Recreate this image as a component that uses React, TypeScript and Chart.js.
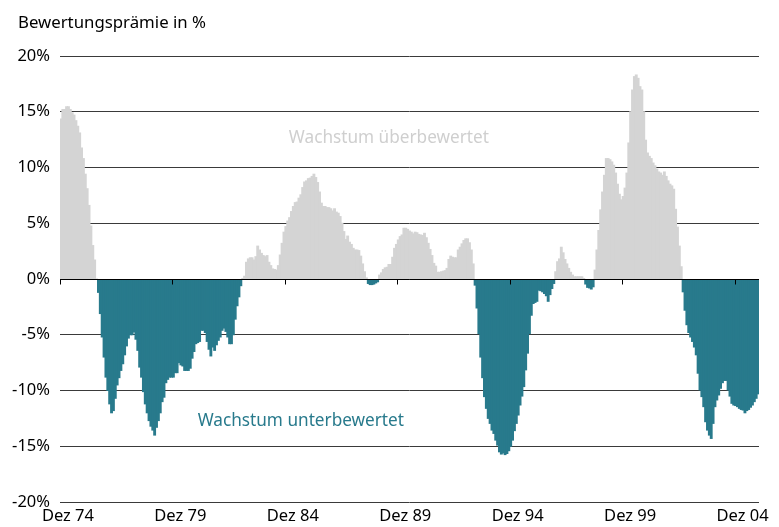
import React, { useEffect, useRef } from 'react';
import { Chart, registerables } from 'chart.js';

Chart.register(...registerables);

// Bewertungsprämie (Wachstum vs. Substanz) in %, monatlich ab Dez 74
const values1975to1979 = [
  14.35, 15.2, 15.2, 15.45, 15.45, 15.2, 14.9, 14.7, 14.2, 13.7,
  13.1, 11.75, 10.8, 9.4, 8.1, 6.6, 4.75, 3.0, 1.7, 0.0,
  -1.2, -3.1, -5.2, -7.0, -8.8, -10.0, -11.2, -12.0, -11.8, -10.7,
  -9.5, -8.85, -8.2, -7.6, -6.8, -6.0, -5.3, -5.0, -5.0, -4.75,
  -5.4, -6.4, -7.9, -8.8, -10.1, -11.2, -12.0, -12.7, -13.2, -13.55,
  -14.0, -13.3, -12.7, -12.0, -11.0, -10.6, -9.3, -9.0, -8.8, -8.8,
];
const values1980to1984 = [
  -8.8, -8.4, -8.4, -7.5, -7.7, -7.8, -8.2, -8.2, -8.2, -8.0,
  -7.1, -6.5, -5.8, -5.7, -5.6, -4.6, -4.6, -4.8, -5.6, -6.3,
  -6.9, -6.1, -6.4, -5.9, -5.5, -5.2, -4.6, -4.4, -4.7, -5.2,
  -5.8, -5.8, -5.0, -3.6, -2.4, -1.6, -0.6, 0.05, 0.25, 1.5,
  1.8, 1.9, 1.9, 1.7, 2.0, 2.95, 2.6, 2.3, 2.1, 2.0,
  2.1, 1.5, 1.2, 0.9, 0.85, 0.8, 1.2, 2.15, 3.2, 4.2,
];
const values1985to1989 = [
  4.7, 5.2, 5.5, 6.05, 6.5, 6.85, 6.9, 7.25, 7.55, 8.2,
  8.7, 8.8, 9.0, 9.05, 9.2, 9.4, 9.1, 8.65, 7.8, 6.8,
  6.5, 6.5, 6.4, 6.4, 6.3, 6.1, 6.3, 6.0, 5.9, 5.6,
  5.0, 4.25, 3.55, 3.85, 3.3, 3.1, 2.75, 2.6, 2.6, 2.55,
  2.05, 1.35, 0.65, 0.1, -0.4, -0.5, -0.5, -0.45, -0.35, -0.25,
  0.35, 0.55, 0.85, 1.0, 1.05, 1.3, 1.3, 1.95, 2.75, 3.1,
];
const values1990to1994 = [
  3.5, 3.8, 3.95, 4.55, 4.55, 4.45, 4.3, 4.2, 4.05, 4.2,
  4.15, 4.0, 3.95, 3.9, 4.1, 3.7, 3.2, 2.65, 2.1, 1.4,
  1.15, 0.6, 0.6, 0.65, 0.7, 0.75, 0.95, 1.75, 2.05, 1.95,
  1.9, 1.9, 2.6, 2.85, 3.15, 3.45, 3.6, 3.6, 3.25, 2.6,
  1.35, -0.55, -2.6, -4.9, -7.0, -8.85, -10.55, -11.6, -12.5, -12.95,
  -13.55, -13.85, -14.45, -14.9, -15.5, -15.7, -15.6, -15.75, -15.65, -15.4,
];
const values1995to1999 = [
  -15.0, -14.45, -13.6, -12.95, -12.2, -11.3, -10.5, -9.65, -8.15, -6.65,
  -4.9, -3.25, -2.2, -2.1, -2.0, -1.0, -1.05, -1.15, -1.3, -1.5,
  -2.0, -1.4, -0.85, -0.4, 0.65, 1.55, 1.8, 2.85, 2.35, 1.75,
  1.35, 0.95, 0.6, 0.35, 0.2, 0.2, 0.2, 0.2, 0.2, 0.05,
  -0.45, -0.75, -0.8, -0.9, -0.7, 0.8, 2.6, 4.35, 6.2, 7.8,
  9.3, 10.8, 10.8, 10.7, 10.5, 10.2, 9.5, 8.5, 7.6, 7.1,
];
const values2000to2004 = [
  7.4, 8.15, 9.5, 12.2, 15.0, 16.95, 18.15, 18.3, 18.0, 17.25,
  16.95, 15.0, 12.45, 11.3, 11.0, 10.8, 10.4, 10.15, 9.85, 9.6,
  9.5, 9.3, 9.6, 9.2, 8.8, 8.5, 8.35, 8.05, 6.25, 4.65,
  2.95, 1.1, -1.15, -2.8, -4.1, -4.8, -5.2, -5.6, -6.1, -6.8,
  -8.45, -9.95, -10.55, -11.45, -12.8, -13.55, -14.0, -14.3, -12.95, -11.45,
  -10.85, -10.4, -9.8, -9.3, -9.1, -9.1, -9.95, -10.5, -11.15, -11.3,
];
const values2005 = [
  -11.35, -11.45, -11.6, -11.7, -11.75, -12.0, -11.8, -11.7, -11.5, -11.3,
  -11.0, -10.7, -10.3,
];

const premium = [
  ...values1975to1979,
  ...values1980to1984,
  ...values1985to1989,
  ...values1990to1994,
  ...values1995to1999,
  ...values2000to2004,
  ...values2005,
];

const monthNames = ['Jan', 'Feb', 'Mrz', 'Apr', 'Mai', 'Jun', 'Jul', 'Aug', 'Sep', 'Okt', 'Nov', 'Dez'];
const categories: string[] = premium.map((_, i) => {
  const m = (11 + i) % 12;
  const y = 1974 + Math.floor((11 + i) / 12);
  return `${monthNames[m]} ${String(y % 100).padStart(2, '0')}`;
});

const tickLabels = ['Dez 74', 'Dez 79', 'Dez 84', 'Dez 89', 'Dez 94', 'Dez 99', 'Dez 04'];
const yTicks = [-20, -15, -10, -5, 0, 5, 10, 15, 20];

const TITLE = 'Bewertungsprämie in %';
const LABEL_OVER = 'Wachstum überbewertet';
const LABEL_UNDER = 'Wachstum unterbewertet';

const GRAY = '#d4d4d4';
const TEAL = '#287a8c';
const FONT = '"Noto Sans", "Open Sans", sans-serif';
const FONT_SIZE = 16.5;

export default function App() {
  const canvasRef = useRef<HTMLCanvasElement | null>(null);

  useEffect(() => {
    const canvas = canvasRef.current;
    if (!canvas) return;

    const overlay = {
      id: 'overlay',
      afterDatasetsDraw(chart: any) {
        const { ctx, chartArea } = chart;
        const x = chart.scales.x;
        const y = chart.scales.y;
        ctx.save();
        // zero line with year ticks
        const y0 = Math.round(y.getPixelForValue(0)) + 0.5;
        ctx.strokeStyle = '#000';
        ctx.lineWidth = 1;
        ctx.beginPath();
        ctx.moveTo(chartArea.left, y0);
        ctx.lineTo(chartArea.right, y0);
        categories.forEach((c, i) => {
          if (tickLabels.includes(c)) {
            const px = Math.round(x.getPixelForValue(i) - x.width / categories.length / 2) + 0.5;
            ctx.moveTo(px, y0);
            ctx.lineTo(px, y0 + 5);
          }
        });
        ctx.stroke();

        // annotations
        ctx.font = `17.2px ${FONT}`;
        ctx.textAlign = 'center';
        ctx.textBaseline = 'middle';
        ctx.fillStyle = '#cfcfcf';
        ctx.fillText(LABEL_OVER, x.getPixelForValue(175), y.getPixelForValue(12.6));
        ctx.fillStyle = TEAL;
        ctx.fillText(LABEL_UNDER, x.getPixelForValue(128), y.getPixelForValue(-12.75));

        // title
        ctx.font = `16.8px ${FONT}`;
        ctx.fillStyle = '#000';
        ctx.textAlign = 'left';
        ctx.textBaseline = 'alphabetic';
        ctx.fillText(TITLE, 18, 28);
        ctx.restore();
      },
    };

    const chart = new Chart(canvas, {
      type: 'bar',
      data: {
        labels: categories,
        datasets: [
          {
            data: premium,
            backgroundColor: premium.map((v) => (v >= 0 ? GRAY : TEAL)),
            borderWidth: 0,
            inflateAmount: 0.5,
            barPercentage: 1,
            categoryPercentage: 1,
          } as any,
        ],
      },
      options: {
        responsive: false,
        animation: false,
        devicePixelRatio: 1,
        layout: { padding: { top: 56, right: 20, left: 0, bottom: 0 } },
        plugins: {
          legend: { display: false },
          tooltip: { enabled: false },
          title: { display: false },
        },
        scales: {
          x: {
            type: 'category',
            grid: { display: false, drawTicks: false },
            border: { display: false },
            ticks: {
              autoSkip: false,
              maxRotation: 0,
              minRotation: 0,
              padding: 4,
              labelOffset: 7,
              color: '#000',
              font: { family: FONT, size: FONT_SIZE },
              callback: (_v: any, i: number) => (tickLabels.includes(categories[i]) ? categories[i] : ''),
            },
            afterFit: (scale: any) => {
              scale.height = 25;
            },
          },
          y: {
            min: -20,
            max: 20,
            afterBuildTicks: (scale: any) => {
              scale.ticks = yTicks.map((v) => ({ value: v }));
            },
            grid: { color: '#3a3a3a', lineWidth: 1, drawTicks: false },
            border: { display: false },
            ticks: {
              padding: 10,
              color: '#000',
              font: { family: FONT, size: FONT_SIZE },
              callback: (v: any) => `${v}%`,
            },
            afterFit: (scale: any) => {
              scale.width = 60;
            },
          },
        },
      },
      plugins: [overlay],
    });

    return () => chart.destroy();
  }, []);

  return (
    <div style={{ position: 'fixed', left: 0, top: 0, width: 779, height: 527, background: '#fff' }}>
      <canvas ref={canvasRef} width={779} height={527} style={{ display: 'block' }} />
    </div>
  );
}
